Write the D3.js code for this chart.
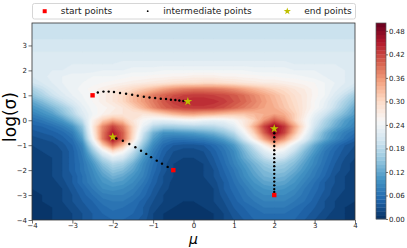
<!DOCTYPE html>
<meta charset="utf-8">
<script src="https://d3js.org/d3.v7.min.js"></script>
<style>
  body { margin: 0; background: #fff; }
  text { font-family: "DejaVu Sans", sans-serif; }
</style>
<div id="chart"></div>
<script>

// grid of the surface, mu along columns, log(sigma) along rows (top row = 4)
const muGrid = [-4, -3.75, -3.5, -3.25, -3, -2.75, -2.5, -2.25, -2, -1.75, -1.5, -1.25, -1, -0.75, -0.5, -0.25,
  0, 0.25, 0.5, 0.75, 1, 1.25, 1.5, 1.75, 2, 2.25, 2.5, 2.75, 3, 3.25, 3.5, 3.75, 4];
const sigmaGrid = [4, 3.75, 3.5, 3.25, 3, 2.75, 2.5, 2.25, 2, 1.75, 1.5, 1.25, 1, 0.75, 0.5, 0.25,
  0, -0.25, -0.5, -0.75, -1, -1.25, -1.5, -1.75, -2, -2.25, -2.5, -2.75, -3, -3.25, -3.5, -3.75, -4];

// surface values in hundredths
const field = [
  [19,19,19,19,19,19,19,19,19,19,19,19,19,19,19,19,19,19,19,19,19,19,19,19,19,19,19,19,19,19,19,19,19],
  [19,19,19,19,19,19,19,19,19,19,19,19,19,19,19,19,19,19,19,19,19,19,19,19,19,19,19,19,19,19,19,19,19],
  [19.5,19.5,19.5,19.5,19.5,19.5,19.5,19.5,19.5,19.5,19.5,19.5,19.5,19.5,19.5,19.5,19.5,19.5,19.5,19.5,19.5,19.5,19.5,19.5,19.5,19.5,19.5,19.5,19.5,19.5,19.5,19.5,19.5],
  [20,20,20,20,20,20,20,20,20,20,20,20,20,20,20,20,20,20,20,20,20,20,20,20,20,20,20,20,20,20,20,20,20],
  [20.5,20.5,20.5,20.5,20.5,20.5,20.5,20.5,20.5,20.5,20.5,20.5,20.5,20.5,20.5,20.5,20.5,20.5,20.5,20.5,20.5,20.5,20.5,20.5,20.5,20.5,20.5,20.5,20.5,20.5,20.5,20.5,20.5],
  [21,21,21,21,21,21,21,21,21,21,21,21,21,21,21,21,21,21,21,21,21,21,21,21,21,21,21,21,21,21,21,21,21],
  [21,21.5,21.5,21.5,21.5,21.5,21.5,21.5,21.5,21.5,21.5,21.5,21.5,21.5,21.5,21.5,21.5,21.5,21.5,21.5,21.5,21.5,21.5,21.5,21.5,21.5,21.5,21.5,21.5,21.5,21.5,21.5,21],
  [21,21,21.5,21.5,22,22,22,22,22,22.5,22.5,22.5,22.5,22.5,22.5,22.5,22.5,22.5,22.5,22.5,22.5,22.5,22.5,22.5,22.5,22.5,22,22,22,22,22,21.5,21.5],
  [21.5,21.5,22,22,22.5,22.5,22.5,23,23,23,23.5,23.5,23.5,24,24,24,24,24,24,24,24,24,23.5,23.5,23.5,23.5,23,23,23,22.5,22.5,22,21.5],
  [21,21.5,22.5,23,23.5,23.5,24,24,24,24.5,25,25,25.5,25.5,26,26,26.5,26.5,26.5,26,26,25.5,25.5,25,25,24.5,24.5,24,23.5,23,22.5,22,21],
  [20,21,22,23,23.5,24,24.5,25,25.5,26,26.5,27,27.5,28,28.5,29,29,29.5,29.5,29,28.5,28,27.5,27,27,26.5,26,25.5,25,24,23,22,21],
  [17,19,21,22.5,23.5,24.5,25.5,26.5,27.5,28.5,30,31.5,33,35,36.5,37.5,38,38,38,37.5,36.5,35,33.5,32,30.5,29.5,28,27,25.5,24,22.5,21,19],
  [15,17,19.5,21.5,23,24,25,26.5,28,30,33,35.5,38,39.5,41,42,42.5,42.5,42,41.5,40.5,39,37,35,33,31,29,27.5,25.5,24,21.5,19,16],
  [12,14,16.5,19,21.5,23.5,25,26.5,28,30,33,35.5,38,40.5,42.5,43.5,44,44,43.5,42.5,41,39.5,37.5,35.5,33.5,31.5,29.5,27.5,25,23,20,17,14],
  [10,11.5,13.5,16,19,22.5,24.5,25.5,26.5,28,30.5,33.5,37,39.5,41,42,42.5,42.5,42,41,39.5,38,36.5,35,34,32,30,27.5,25,22.5,19,15.5,12],
  [8,9.5,11,14,17.5,21.5,24,26,27.5,28,28,28,29,31,33,34.5,35,34,33.5,32.5,32,32,33,34,35,34,31,27,23,20,16.5,13.5,11],
  [6,7,8.5,10.5,14,18.5,26,31,34,32,28,25,23,22.5,23,24,24.5,23.5,23,23.5,25,27.5,31,36,40,37,31,26,21.5,17.5,14,11,9],
  [4.5,5,6,7.5,10,15,27,37,42,38,30,23,18,16.5,16.5,17,17.5,17.5,18,19.5,22,27,34,42,47,43,35,27,20,16,12.5,10,8],
  [3.5,4,4.5,5.5,7.5,13,26,38,45,40,30,20,13,10,10,10.5,11,12,13,15,18,24,31,40,47,42,33,25,18,13,10,7.5,6],
  [2.5,3,3.5,4.5,6,11,24,38,46,40,29,18,11,7.5,6.5,6.5,7,7.5,9,11,14,20,27,35,41,36,29,22,16,12,9,6.5,4.5],
  [2,2,2.5,3.5,5,8.5,19,31,39,33,24,15,9,5.5,4,3.5,3.5,4,5.5,7.5,10.5,15,20,26,32,28,22,17,12,8.5,6,4,3],
  [1.5,2,2.5,3,4.5,7.5,15,23,29,25.5,19,12.5,7.5,4.5,3,2.5,2.5,3,4.5,6.5,9,13,17,21.5,25,23,19,14,10.5,7,5,3.5,2.5],
  [1.5,1.5,2,3,4.5,7,12,18,22,20.5,16,10.5,6.5,4,2.5,2,2,2.5,4,6,8.5,12,15,18.5,21,19.5,16,12.5,9,6.5,4.5,3,2],
  [1,1.5,2,3,4.5,6.5,10,14.5,17.5,16.5,13,9,6,3.5,2,1.5,1.5,2,3.5,5.5,8,10.5,13,15.5,17,16,14,11,8.5,6,4,2.5,1.5],
  [1,1.5,2,3,4.5,6.5,9,12.5,15,14,11.5,8.5,5.5,3.5,2,1.5,1.5,2,3,5,7,9.5,12,14,15,14.5,12.5,10,7.5,5.5,3.5,2.5,1.5],
  [1,1,2,3,4,6,8.5,11,13,12,10,8,5,3,2,1,1,2,3,4.5,6.5,9,11,13,13.5,13,11,9,7,5,3,2,1],
  [1,1,1.5,2.5,4,6,8,10,11,10.5,9,7,4.5,3,1.5,1,1,1.5,2.5,4,6,8,10,11.5,12,11.5,10,8,6,4,3,2,1],
  [1,1,1.5,2,3.5,5,7,9,9.5,9,8,6,4,2.5,1.5,1,1,1,2,4,5.5,7,9,10,10.5,10,9,7,5.5,4,2.5,2,1],
  [0.5,1,1.5,2,3,4.5,6,7.5,8,8,7,5.5,3.5,2,1,1,1,1,2,3.5,5,6.5,8,9,9,9,8,6.5,5,3.5,2.5,1.5,1],
  [0.5,1,1,2,3,4,5,6.5,7,7,6,4.5,3,2,1,1,1,1,2,3,4.5,6,7,8,8,8,7,6,4.5,3,2,1.5,1],
  [0.5,0.5,1,1.5,2.5,3.5,4.5,5.5,6.5,6,5.5,4,2.5,1.5,1,0.5,0.5,1,1.5,2.5,4,5,6,7,7,7,6,5,4,3,2,1,0.5],
  [0.5,0.5,1,1,2,3,4,5,5.5,5.5,5,4,2,1,0.5,0.5,0.5,0.5,1,2,3.5,4.5,5.5,6,6,6,5.5,4.5,3.5,2.5,1.5,1,0.5],
  [0.5,0.5,1,1,2,3,4,4.5,5,5,4.5,3.5,2,1,0.5,0.5,0.5,0.5,1,2,3,4,5,5.5,5.5,5.5,5,4,3,2,1.5,1,0.5]
];

// optimisation runs: [mu, log sigma]
const startPoints = [[-2.5, 1.0], [-0.5, -2.0], [2.0, -3.0]];
const endPoints = [[-0.14, 0.75], [-2.0, -0.67], [2.0, -0.34]];
const midPoints1 = [[-2.37, 1.11], [-2.23, 1.15], [-2.10, 1.15], [-1.97, 1.13], [-1.82, 1.09], [-1.67, 1.06],
  [-1.52, 1.02], [-1.38, 0.98], [-1.23, 0.94], [-1.09, 0.91], [-0.95, 0.89], [-0.81, 0.86], [-0.68, 0.85],
  [-0.56, 0.82], [-0.45, 0.81], [-0.35, 0.79], [-0.25, 0.77]];
const midPoints2 = [[-0.64, -1.87], [-0.78, -1.74], [-0.91, -1.62], [-1.05, -1.48], [-1.17, -1.35],
  [-1.30, -1.22], [-1.44, -1.08], [-1.59, -0.95], [-1.75, -0.82], [-1.91, -0.73]];
const midPoints3 = [[2, -2.88], [2, -2.76], [2, -2.61], [2, -2.46], [2, -2.31], [2, -2.15], [2, -1.99],
  [2, -1.84], [2, -1.68], [2, -1.52], [2, -1.36], [2, -1.20], [2, -1.03], [2, -0.86], [2, -0.68], [2, -0.52]];

const xTicks = [-4, -3, -2, -1, 0, 1, 2, 3, 4];
const yTicks = [-4, -3, -2, -1, 0, 1, 2, 3];
const cbTicks = [0, 0.06, 0.12, 0.18, 0.24, 0.30, 0.36, 0.42, 0.48];
const levels = [0, 0.01, 0.02, 0.03, 0.04, 0.05, 0.06, 0.07, 0.08, 0.09, 0.10, 0.11, 0.12, 0.13, 0.14, 0.15,
  0.16, 0.17, 0.18, 0.19, 0.20, 0.21, 0.22, 0.23, 0.24, 0.25, 0.26, 0.27, 0.28, 0.29, 0.30, 0.31, 0.32, 0.33,
  0.34, 0.35, 0.36, 0.37, 0.38, 0.39, 0.40, 0.41, 0.42, 0.43, 0.44, 0.45, 0.46, 0.47, 0.48, 0.49, 0.50];

const width = 407, height = 248;
const plot = { left: 32, right: 355, top: 23, bottom: 220 };

const svg = d3.select("#chart").append("svg")
  .attr("width", width)
  .attr("height", height);

const x = d3.scaleLinear().domain([-4, 4]).range([plot.left, plot.right]);
const y = d3.scaleLinear().domain([-4, 3.9]).range([plot.bottom, plot.top]);

// RdBu reversed, linear between the brewer stops like matplotlib
const rdbu = ["#053061", "#2166ac", "#4393c3", "#92c5de", "#d1e5f0", "#f7f7f7",
  "#fddbc7", "#f4a582", "#d6604d", "#b2182b", "#67001f"];
const vmin = levels[0], vmax = levels[levels.length - 1];
const color = d3.scaleLinear()
  .domain(rdbu.map((c, i) => vmin + (vmax - vmin) * i / (rdbu.length - 1)))
  .range(rdbu)
  .clamp(true);
const bandColor = i => color((levels[i] + levels[i + 1]) / 2);

// filled contours
const n = muGrid.length, m = sigmaGrid.length;
const values = field.flat().map(v => v / 100);
const gx = d3.scaleLinear().domain([0.5, n - 0.5]).range([x(muGrid[0]), x(muGrid[n - 1])]);
const gy = d3.scaleLinear().domain([0.5, m - 0.5]).range([y(sigmaGrid[0]), y(sigmaGrid[m - 1])]);
const proj = d3.geoTransform({
  point: function (px, py) { this.stream.point(gx(px), gy(py)); }
});
const path = d3.geoPath(proj);

const contours = d3.contours()
  .size([n, m])
  .thresholds(levels.slice(0, -1))(values);

svg.append("clipPath").attr("id", "clip")
  .append("rect")
  .attr("x", plot.left).attr("y", plot.top)
  .attr("width", plot.right - plot.left).attr("height", plot.bottom - plot.top);

const fieldG = svg.append("g").attr("clip-path", "url(#clip)");
fieldG.append("rect")
  .attr("x", plot.left).attr("y", plot.top)
  .attr("width", plot.right - plot.left).attr("height", plot.bottom - plot.top)
  .attr("fill", bandColor(0));
fieldG.selectAll("path")
  .data(contours)
  .join("path")
  .attr("d", path)
  .attr("fill", (d, i) => bandColor(i))
  .attr("stroke", (d, i) => bandColor(i))
  .attr("stroke-width", 0.3);

// optimisation paths
const marks = svg.append("g").attr("clip-path", "url(#clip)");
marks.selectAll("circle.mid")
  .data(midPoints1.concat(midPoints2, midPoints3))
  .join("circle")
  .attr("class", "mid")
  .attr("cx", d => x(d[0]))
  .attr("cy", d => y(d[1]))
  .attr("r", 1.2)
  .attr("fill", "#000");
marks.selectAll("rect.start")
  .data(startPoints)
  .join("rect")
  .attr("class", "start")
  .attr("x", d => x(d[0]) - 2.2)
  .attr("y", d => y(d[1]) - 2.2)
  .attr("width", 4.4).attr("height", 4.4)
  .attr("fill", "#ff0000");
const star = d3.symbol().type(d3.symbolStar).size(24);
marks.selectAll("path.end")
  .data(endPoints)
  .join("path")
  .attr("class", "end")
  .attr("transform", d => `translate(${x(d[0])},${y(d[1])})`)
  .attr("d", star)
  .attr("fill", "#bfbf00");

// frame and axes
svg.append("rect")
  .attr("x", plot.left).attr("y", plot.top)
  .attr("width", plot.right - plot.left).attr("height", plot.bottom - plot.top)
  .attr("fill", "none").attr("stroke", "#333").attr("stroke-width", 0.8);

const xAxis = svg.append("g")
  .attr("transform", `translate(0,${plot.bottom})`)
  .call(d3.axisBottom(x).tickValues(xTicks).tickSize(3.5).tickPadding(0));
const yAxis = svg.append("g")
  .attr("transform", `translate(${plot.left},0)`)
  .call(d3.axisLeft(y).tickValues(yTicks).tickSize(3.5).tickPadding(1.5));
[xAxis, yAxis].forEach(a => {
  a.select(".domain").remove();
  a.selectAll("line").attr("stroke", "#333").attr("stroke-width", 0.7);
  a.selectAll("text").attr("font-size", 7).attr("fill", "#222")
    .attr("font-family", "DejaVu Sans, sans-serif");
});

svg.append("text")
  .attr("x", (plot.left + plot.right) / 2)
  .attr("y", 244)
  .attr("text-anchor", "middle")
  .attr("font-size", 14)
  .attr("font-style", "italic")
  .text("μ");

svg.append("text")
  .attr("transform", `translate(15.5,117) rotate(-90)`)
  .attr("text-anchor", "middle")
  .attr("font-size", 17)
  .text("log(σ)");

// colorbar
const cb = { x: 376, w: 10 };
const cy = d3.scaleLinear().domain([vmin, vmax]).range([219, 23]);
svg.append("g").selectAll("rect")
  .data(levels.slice(0, -1))
  .join("rect")
  .attr("x", cb.x)
  .attr("y", (d, i) => cy(levels[i + 1]))
  .attr("width", cb.w)
  .attr("height", (d, i) => cy(levels[i]) - cy(levels[i + 1]) + 0.3)
  .attr("fill", (d, i) => bandColor(i));
svg.append("rect")
  .attr("x", cb.x).attr("y", cy(vmax))
  .attr("width", cb.w).attr("height", cy(vmin) - cy(vmax))
  .attr("fill", "none").attr("stroke", "#555").attr("stroke-width", 0.7);
const cbAxis = svg.append("g")
  .attr("transform", `translate(${cb.x + cb.w},0)`)
  .call(d3.axisRight(cy).tickValues(cbTicks).tickFormat(d3.format(".2f")).tickSize(2).tickPadding(1));
cbAxis.select(".domain").remove();
cbAxis.selectAll("line").attr("stroke", "#333").attr("stroke-width", 0.7);
cbAxis.selectAll("text").attr("font-size", 7).attr("fill", "#222")
  .attr("font-family", "DejaVu Sans, sans-serif");

// legend
const legend = svg.append("g");
legend.append("rect")
  .attr("x", 32.5).attr("y", 3.5)
  .attr("width", 323).attr("height", 15.5)
  .attr("rx", 2)
  .attr("fill", "#fff").attr("stroke", "#ccc").attr("stroke-width", 0.8);
legend.append("rect")
  .attr("x", 44.7 - 2).attr("y", 11.2 - 2)
  .attr("width", 4).attr("height", 4)
  .attr("fill", "#ff0000");
legend.append("circle")
  .attr("cx", 147.7).attr("cy", 11.2).attr("r", 0.9).attr("fill", "#000");
legend.append("path")
  .attr("transform", "translate(287.3,11.2)")
  .attr("d", d3.symbol().type(d3.symbolStar).size(16))
  .attr("fill", "#bfbf00");
const legendText = [["start points", 60.7], ["intermediate points", 163.3], ["end points", 304.3]];
legend.selectAll("text")
  .data(legendText)
  .join("text")
  .attr("x", d => d[1])
  .attr("y", 14.3)
  .attr("font-size", 9)
  .attr("fill", "#222")
  .text(d => d[0]);

</script>
